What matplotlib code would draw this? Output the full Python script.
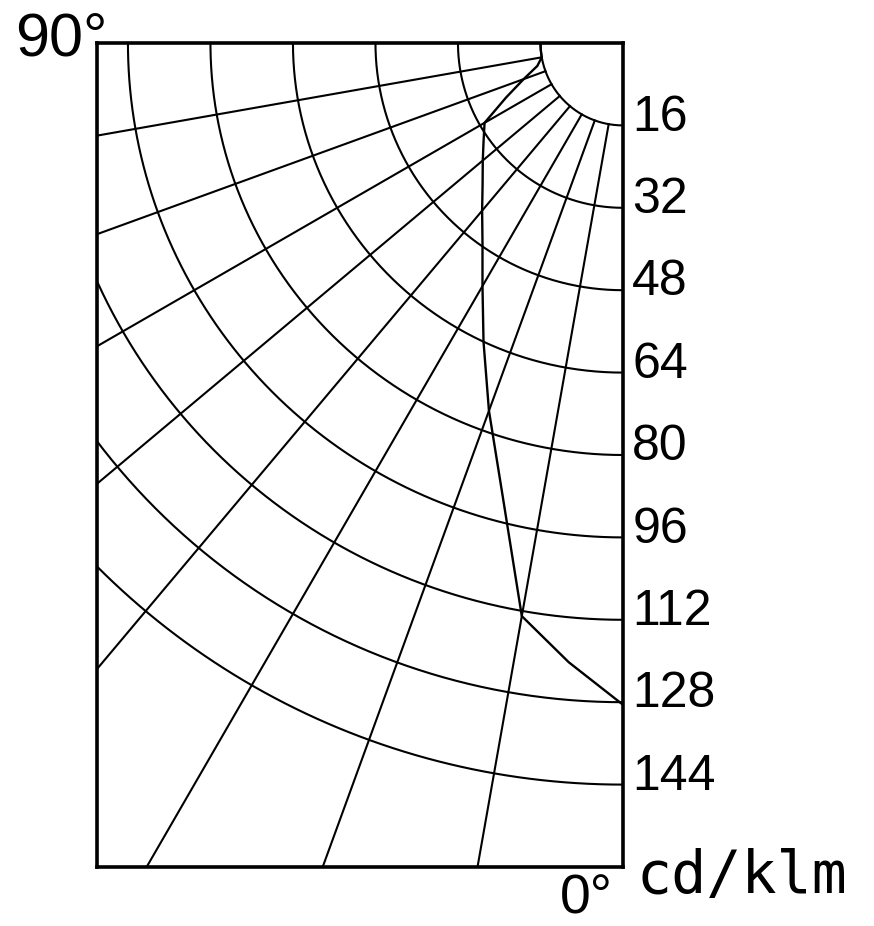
import numpy as np
import matplotlib
matplotlib.use("Agg")
import matplotlib.pyplot as plt

# ---- data ----
angles_deg = [0, 5, 10, 15, 20, 25, 30, 35, 40, 45, 50, 55, 60, 65, 70, 75, 80, 85, 90]
intensity = [128.5, 120.7, 113.0, 90.5, 76.0, 64.0, 54.5, 47.5, 42.5, 38.5, 35.5,
             33.0, 31.0, 25.0, 20.5, 17.2, 16.0, 16.0, 16.0]
ring_values = [16, 32, 48, 64, 80, 96, 112, 128, 144]
ring_labels = ["16", "32", "48", "64", "80", "96", "112", "128", "144"]
spoke_angles = [10, 20, 30, 40, 50, 60, 70, 80]
top_angle_label = "90°"
bottom_angle_label = "0°"
unit_label = "cd/klm"

FONT = ["Liberation Sans", "DejaVu Sans"]


def to_xy(theta_deg, r):
    t = np.radians(np.asarray(theta_deg, dtype=float))
    r = np.asarray(r, dtype=float)
    return -r * np.sin(t), -r * np.cos(t)


fig = plt.figure(figsize=(8.74, 9.26), dpi=100)
fig.patch.set_facecolor("white")
ax = fig.add_axes([97 / 874, 59 / 926, 526 / 874, 824 / 926])
ax.set_xlim(-102, 0)
ax.set_ylim(-160, 0)
ax.set_xticks([])
ax.set_yticks([])
for sp in ax.spines.values():
    sp.set_linewidth(2.6)
    sp.set_color("black")
    sp.set_zorder(5)

# rings
t = np.linspace(0, 90, 400)
for v in ring_values:
    x, y = to_xy(t, np.full_like(t, v))
    ax.plot(x, y, color="black", lw=1.5)

# spokes (start at first ring)
for a in spoke_angles:
    x, y = to_xy([a, a], [ring_values[0], 400])
    ax.plot(x, y, color="black", lw=1.5)

# intensity curve
cx, cy = to_xy(angles_deg, intensity)
ax.plot(cx, cy, color="black", lw=1.7, zorder=4)

# labels
for v, lab in zip(ring_values, ring_labels):
    ax.text(1.8, -v + 1.5, lab, ha="left", va="center", fontsize=36,
            family=FONT, clip_on=False)

ax.text(-100.0, -2.4, top_angle_label, ha="right", va="baseline", fontsize=44,
        family=FONT, clip_on=False)
ax.text(-1.9, -169.0, bottom_angle_label, ha="right", va="baseline", fontsize=40,
        family=FONT, clip_on=False)
ax.text(2.7, -165.0, unit_label, ha="left", va="baseline", fontsize=42,
        family=["DejaVu Sans Mono"], clip_on=False)

fig.savefig("out.png", dpi=100, facecolor="white")
